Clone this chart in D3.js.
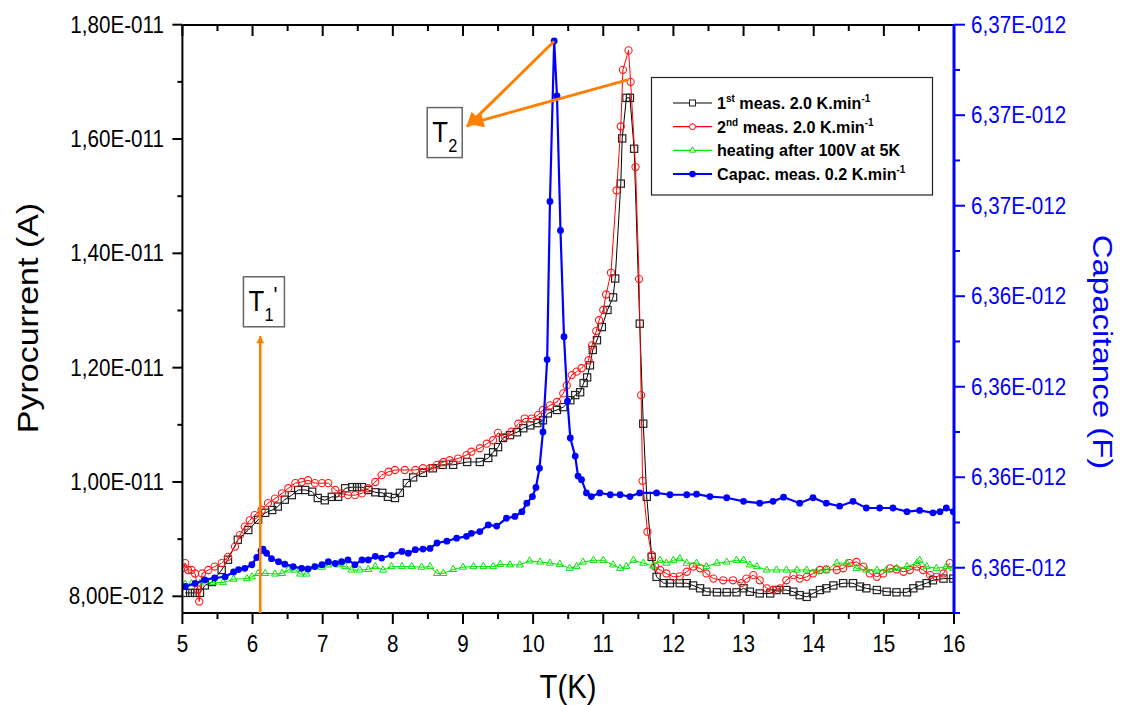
<!DOCTYPE html>
<html><head><meta charset="utf-8">
<script src="https://cdn.jsdelivr.net/npm/d3@7"></script>
<style>body{margin:0;background:#fff}svg{font-family:"Liberation Sans",Arial,sans-serif}</style>
</head><body><svg id="c" width="1122" height="705"></svg>
<script>
// ---- data (T in K, pyrocurrent in 1e-12 A, capacitance in 1e-12 F) ----
const xTicks = [5,6,7,8,9,10,11,12,13,14,15,16];
const leftTicks = [8,10,12,14,16,18];
const leftTickLabels = ["8,00E-012","1,00E-011","1,20E-011","1,40E-011","1,60E-011","1,80E-011"];
const rightTicks = [6.3595,6.3610,6.3625,6.3640,6.3655,6.3670,6.3685];
const rightTickLabels = ["6,36E-012","6,36E-012","6,36E-012","6,36E-012","6,37E-012","6,37E-012","6,37E-012"];

const meas1 = [[5.04,8.06],[5.11,8.06],[5.18,8.06],[5.25,8.06],[5.32,8.19],[5.42,8.25],[5.56,8.46],[5.65,8.64],[5.79,8.99],[5.94,9.16],[6.08,9.34],[6.18,9.46],[6.28,9.51],[6.36,9.57],[6.46,9.69],[6.56,9.77],[6.65,9.86],[6.75,9.86],[6.85,9.83],[6.93,9.72],[7.03,9.68],[7.13,9.74],[7.22,9.74],[7.32,9.89],[7.42,9.91],[7.49,9.91],[7.56,9.91],[7.65,9.86],[7.75,9.82],[7.85,9.81],[7.93,9.74],[8.03,9.72],[8.10,9.81],[8.20,9.98],[8.29,10.08],[8.43,10.16],[8.57,10.24],[8.71,10.30],[8.86,10.30],[9.06,10.35],[9.24,10.35],[9.36,10.42],[9.43,10.52],[9.50,10.61],[9.57,10.77],[9.67,10.82],[9.77,10.87],[9.86,10.94],[9.96,10.99],[10.06,11.03],[10.14,11.08],[10.21,11.20],[10.34,11.26],[10.43,11.31],[10.53,11.43],[10.60,11.52],[10.67,11.57],[10.72,11.73],[10.77,11.83],[10.81,12.04],[10.85,12.31],[10.91,12.48],[10.98,12.71],[11.06,13.01],[11.14,13.23],[11.17,13.56],[11.25,15.22],[11.27,16.01],[11.33,16.72],[11.38,16.72],[11.44,15.83],[11.52,12.77],[11.57,11.02],[11.62,9.74],[11.69,8.69],[11.76,8.34],[11.86,8.23],[11.95,8.23],[12.09,8.23],[12.19,8.23],[12.28,8.19],[12.38,8.14],[12.47,8.08],[12.62,8.07],[12.76,8.07],[12.90,8.07],[13.00,8.14],[13.09,8.08],[13.23,8.05],[13.38,8.05],[13.47,8.11],[13.61,8.11],[13.71,8.08],[13.80,8.02],[13.90,7.99],[13.99,8.05],[14.09,8.11],[14.18,8.14],[14.28,8.19],[14.42,8.23],[14.56,8.23],[14.66,8.17],[14.75,8.14],[14.90,8.11],[15.04,8.08],[15.18,8.07],[15.33,8.07],[15.42,8.14],[15.51,8.19],[15.61,8.23],[15.70,8.28],[15.85,8.31],[15.99,8.31]];

const meas2 = [[5.02,8.50],[5.04,8.58],[5.08,8.46],[5.13,8.46],[5.18,8.40],[5.22,8.12],[5.24,7.91],[5.28,8.40],[5.37,8.46],[5.46,8.52],[5.56,8.58],[5.65,8.69],[5.75,8.87],[5.82,9.07],[5.89,9.22],[5.96,9.33],[6.03,9.42],[6.13,9.51],[6.22,9.63],[6.32,9.71],[6.42,9.80],[6.51,9.89],[6.61,9.98],[6.70,10.00],[6.79,10.03],[6.89,9.98],[6.99,9.98],[7.08,9.98],[7.18,9.86],[7.27,9.80],[7.36,9.77],[7.46,9.77],[7.56,9.80],[7.65,9.89],[7.75,10.00],[7.84,10.12],[7.94,10.18],[8.03,10.21],[8.17,10.21],[8.32,10.21],[8.43,10.24],[8.53,10.24],[8.63,10.30],[8.72,10.35],[8.81,10.38],[8.93,10.41],[9.05,10.47],[9.12,10.53],[9.24,10.59],[9.34,10.67],[9.43,10.73],[9.50,10.86],[9.60,10.79],[9.69,10.88],[9.79,11.02],[9.88,11.11],[9.98,11.11],[10.07,11.17],[10.14,11.26],[10.24,11.34],[10.34,11.40],[10.43,11.55],[10.48,11.69],[10.55,11.87],[10.62,11.93],[10.69,11.99],[10.79,12.13],[10.84,12.39],[10.90,12.64],[10.94,12.83],[11.00,13.01],[11.04,13.28],[11.11,13.66],[11.19,15.10],[11.25,16.22],[11.28,17.21],[11.36,17.55],[11.39,17.00],[11.46,15.51],[11.51,13.55],[11.54,11.52],[11.56,10.02],[11.63,9.13],[11.69,8.72],[11.74,8.52],[11.81,8.46],[11.90,8.40],[12.00,8.34],[12.09,8.35],[12.19,8.43],[12.28,8.52],[12.38,8.49],[12.47,8.40],[12.57,8.31],[12.71,8.28],[12.85,8.28],[12.97,8.23],[13.04,8.31],[13.14,8.37],[13.23,8.28],[13.33,8.14],[13.42,8.11],[13.52,8.14],[13.61,8.28],[13.71,8.37],[13.80,8.31],[13.90,8.34],[13.99,8.40],[14.09,8.46],[14.18,8.47],[14.33,8.46],[14.42,8.49],[14.51,8.58],[14.61,8.60],[14.71,8.52],[14.80,8.40],[14.90,8.34],[14.99,8.40],[15.09,8.49],[15.18,8.47],[15.28,8.43],[15.37,8.46],[15.47,8.52],[15.56,8.46],[15.66,8.37],[15.75,8.34],[15.85,8.40],[15.94,8.58]];

const heat100V = [[5.04,8.21],[5.13,8.22],[5.25,8.23],[5.44,8.24],[5.58,8.24],[5.73,8.30],[5.92,8.31],[5.99,8.34],[6.08,8.40],[6.18,8.40],[6.32,8.39],[6.42,8.40],[6.51,8.46],[6.61,8.46],[6.68,8.39],[6.77,8.39],[6.87,8.51],[6.99,8.51],[7.08,8.55],[7.22,8.55],[7.32,8.52],[7.41,8.46],[7.53,8.46],[7.65,8.47],[7.75,8.52],[7.86,8.46],[7.98,8.52],[8.13,8.52],[8.27,8.52],[8.41,8.51],[8.53,8.52],[8.63,8.40],[8.72,8.40],[8.86,8.47],[9.00,8.51],[9.15,8.52],[9.29,8.52],[9.43,8.52],[9.53,8.56],[9.67,8.55],[9.81,8.55],[9.95,8.62],[10.10,8.60],[10.24,8.58],[10.38,8.56],[10.52,8.49],[10.62,8.52],[10.71,8.60],[10.86,8.63],[11.00,8.63],[11.14,8.55],[11.24,8.49],[11.33,8.52],[11.43,8.63],[11.57,8.58],[11.71,8.53],[11.81,8.63],[11.90,8.58],[12.00,8.63],[12.09,8.66],[12.19,8.58],[12.33,8.58],[12.47,8.52],[12.62,8.58],[12.76,8.60],[12.90,8.63],[13.00,8.63],[13.09,8.55],[13.19,8.52],[13.33,8.46],[13.47,8.46],[13.61,8.46],[13.76,8.46],[13.90,8.46],[14.04,8.43],[14.18,8.46],[14.33,8.58],[14.47,8.58],[14.61,8.49],[14.75,8.46],[14.90,8.46],[15.04,8.46],[15.18,8.49],[15.33,8.52],[15.47,8.58],[15.51,8.63],[15.61,8.52],[15.75,8.49],[15.89,8.52],[15.99,8.49]];

const capac = [[5.04,6.35919],[5.18,6.35924],[5.32,6.35930],[5.46,6.35933],[5.61,6.35935],[5.73,6.35943],[5.80,6.35947],[5.89,6.35949],[5.99,6.35955],[6.06,6.35967],[6.12,6.35978],[6.15,6.35981],[6.20,6.35974],[6.27,6.35965],[6.37,6.35960],[6.46,6.35956],[6.58,6.35952],[6.70,6.35949],[6.79,6.35948],[6.89,6.35952],[6.99,6.35955],[7.08,6.35960],[7.18,6.35957],[7.27,6.35960],[7.36,6.35963],[7.46,6.35955],[7.56,6.35963],[7.65,6.35963],[7.75,6.35969],[7.84,6.35966],[7.98,6.35971],[8.13,6.35977],[8.22,6.35974],[8.32,6.35980],[8.43,6.35981],[8.53,6.35982],[8.63,6.35991],[8.77,6.35994],[8.91,6.35999],[9.05,6.36002],[9.12,6.36007],[9.24,6.36010],[9.36,6.36021],[9.48,6.36019],[9.62,6.36032],[9.74,6.36035],[9.84,6.36043],[9.91,6.36057],[9.99,6.36068],[10.04,6.36083],[10.09,6.36115],[10.14,6.36175],[10.20,6.36295],[10.24,6.36557],[10.30,6.36823],[10.34,6.36732],[10.39,6.36509],[10.44,6.36333],[10.49,6.36226],[10.53,6.36165],[10.60,6.36135],[10.64,6.36102],[10.69,6.36096],[10.76,6.36074],[10.83,6.36068],[10.95,6.36074],[11.10,6.36071],[11.24,6.36071],[11.38,6.36068],[11.52,6.36074],[11.76,6.36074],[11.95,6.36071],[12.19,6.36071],[12.33,6.36072],[12.52,6.36068],[12.76,6.36066],[13.00,6.36060],[13.23,6.36057],[13.42,6.36060],[13.57,6.36067],[13.80,6.36057],[13.99,6.36066],[14.18,6.36057],[14.37,6.36052],[14.56,6.36060],[14.75,6.36049],[14.94,6.36049],[15.13,6.36049],[15.33,6.36043],[15.51,6.36045],[15.70,6.36041],[15.80,6.36043],[15.89,6.36049],[15.99,6.36043]];

const legendItems = [
  {main:"1", sup:"st", rest:" meas. 2.0 K.min", sup2:"-1", color:"#000", sym:"square"},
  {main:"2", sup:"nd", rest:" meas. 2.0 K.min", sup2:"-1", color:"#ff0000", sym:"circle"},
  {main:"heating after 100V at 5K", sup:"", rest:"", sup2:"", color:"#00e600", sym:"triangle"},
  {main:"Capac. meas. 0.2 K.min", sup:"-1", rest:"", sup2:"", color:"#0000ff", sym:"dot"}
];

// ---- layout ----
const L=182.4, R=954, TOP=25, BOT=613;
const svg = d3.select("#c");
const x = d3.scaleLinear().domain([5,16]).range([L,R]);
const yL = d3.scaleLinear().domain([7.708,18]).range([BOT,24.7]);
const yR = d3.scaleLinear().domain([6.35875,6.3685]).range([BOT,24.7]);
const orange = "#ff8000";
const SX = 0.86;

function txt(g, px, py, str, size, opts={}) {
  return g.append("text")
    .attr("transform", `translate(${px},${py}) ${opts.rot?`rotate(${opts.rot})`:""} scale(${opts.rot?1:SX},${opts.rot?SX:1})`)
    .attr("font-size", size).attr("fill", opts.fill||"#000")
    .attr("text-anchor", opts.anchor||"start")
    .attr("font-weight", opts.bold?"bold":"normal")
    .text(str);
}

const lineL = d3.line().x(d=>x(d[0])).y(d=>yL(d[1]));
const lineR = d3.line().x(d=>x(d[0])).y(d=>yR(d[1]));
const plot = svg.append("g");
plot.append("defs").append("clipPath").attr("id","clip").append("rect")
  .attr("x",L).attr("y",TOP).attr("width",R-L).attr("height",BOT-TOP);
const pg = plot.append("g").attr("clip-path","url(#clip)");

// black squares
pg.append("path").datum(meas1).attr("d",lineL).attr("fill","none").attr("stroke","#000").attr("stroke-width",1);
pg.selectAll(".sq").data(meas1).enter().append("rect")
  .attr("x",d=>x(d[0])-3.6).attr("y",d=>yL(d[1])-3.6).attr("width",7.2).attr("height",7.2)
  .attr("fill","none").attr("stroke","#222").attr("stroke-width",1.2);
// red circles
pg.append("path").datum(meas2).attr("d",lineL).attr("fill","none").attr("stroke","#ff0000").attr("stroke-width",1);
pg.selectAll(".ci").data(meas2).enter().append("circle")
  .attr("cx",d=>x(d[0])).attr("cy",d=>yL(d[1])).attr("r",3.6)
  .attr("fill","none").attr("stroke","#ff1a1a").attr("stroke-width",1.1);
// green triangles
pg.append("path").datum(heat100V).attr("d",lineL).attr("fill","none").attr("stroke","#00e600").attr("stroke-width",1);
const tri = d3.symbol().type(d3.symbolTriangle).size(22);
pg.selectAll(".tr").data(heat100V).enter().append("path")
  .attr("d",tri).attr("transform",d=>`translate(${x(d[0])},${yL(d[1])})`)
  .attr("fill","none").attr("stroke","#00e600").attr("stroke-width",1);
// blue dots
pg.append("path").datum(capac).attr("d",lineR).attr("fill","none").attr("stroke","#0000ff").attr("stroke-width",2.2);
pg.selectAll(".bd").data(capac).enter().append("circle")
  .attr("cx",d=>x(d[0])).attr("cy",d=>yR(d[1])).attr("r",3.4).attr("fill","#0000ff");

// ---- axes ----
const ax = svg.append("g");
ax.append("line").attr("x1",L).attr("x2",R).attr("y1",TOP).attr("y2",TOP).attr("stroke","#000").attr("stroke-width",2);
ax.append("line").attr("x1",L).attr("x2",R).attr("y1",BOT).attr("y2",BOT).attr("stroke","#000").attr("stroke-width",2);
ax.append("line").attr("x1",L).attr("x2",L).attr("y1",TOP).attr("y2",BOT).attr("stroke","#000").attr("stroke-width",2);
const xMinor = xTicks.slice(0,-1).map(v=>v+0.5);
xTicks.forEach(v=>{
  ax.append("line").attr("x1",x(v)).attr("x2",x(v)).attr("y1",BOT).attr("y2",BOT+11).attr("stroke","#000").attr("stroke-width",2);
  ax.append("line").attr("x1",x(v)).attr("x2",x(v)).attr("y1",TOP).attr("y2",TOP+11).attr("stroke","#000").attr("stroke-width",2);
  txt(ax, x(v), 652, String(v), 24, {anchor:"middle"});
});
xMinor.forEach(v=>{
  ax.append("line").attr("x1",x(v)).attr("x2",x(v)).attr("y1",BOT).attr("y2",BOT+6).attr("stroke","#000").attr("stroke-width",2);
  ax.append("line").attr("x1",x(v)).attr("x2",x(v)).attr("y1",TOP).attr("y2",TOP+6).attr("stroke","#000").attr("stroke-width",2);
});
leftTicks.forEach((v,i)=>{
  ax.append("line").attr("x1",L-10).attr("x2",L).attr("y1",yL(v)).attr("y2",yL(v)).attr("stroke","#000").attr("stroke-width",2);
  txt(ax, 164, yL(v)+8, leftTickLabels[i], 24, {anchor:"end"});
});
leftTicks.slice(0,-1).map(v=>v+1).forEach(v=>{
  ax.append("line").attr("x1",L-5).attr("x2",L).attr("y1",yL(v)).attr("y2",yL(v)).attr("stroke","#000").attr("stroke-width",2);
});
ax.append("line").attr("x1",R).attr("x2",R).attr("y1",TOP-1).attr("y2",BOT+1).attr("stroke","#0000ff").attr("stroke-width",3);
rightTicks.forEach((v,i)=>{
  ax.append("line").attr("x1",R).attr("x2",R+11).attr("y1",yR(v)).attr("y2",yR(v)).attr("stroke","#0000ff").attr("stroke-width",2);
  txt(ax, 971, yR(v)+8, rightTickLabels[i], 24, {fill:"#0000ff"});
});
rightTicks.map(v=>v-0.00075).forEach(v=>{
  ax.append("line").attr("x1",R).attr("x2",R+6).attr("y1",yR(v)).attr("y2",yR(v)).attr("stroke","#0000ff").attr("stroke-width",2);
});
txt(ax, 568, 698, "T(K)", 34, {anchor:"middle"});
txt(ax, 38, 318, "Pyrocurrent (A)", 34, {anchor:"middle", rot:-90});
txt(ax, 1093, 352, "Capacitance (F)", 33, {anchor:"middle", rot:90, fill:"#0000ff"});

// ---- annotations ----
const defs = svg.append("defs");
defs.append("marker").attr("id","ah").attr("viewBox","0 0 10 10").attr("refX",9).attr("refY",5)
  .attr("markerWidth",7).attr("markerHeight",5).attr("orient","auto").attr("markerUnits","strokeWidth")
  .append("path").attr("d","M0,0 L10,5 L0,10 z").attr("fill",orange);
defs.append("marker").attr("id","ah2").attr("viewBox","0 0 10 10").attr("refX",9).attr("refY",5)
  .attr("markerWidth",4).attr("markerHeight",3).attr("orient","auto").attr("markerUnits","strokeWidth")
  .append("path").attr("d","M0,0 L10,5 L0,10 z").attr("fill",orange);
const an = svg.append("g");
const arrows = [
  {from:[10.30,17.71], to:[9.06,16.22], m:"ah", w:3},
  {from:[11.36,17.04], to:[9.10,16.27], m:"ah", w:3},
  {from:[6.11,7.708], to:[6.11,12.55], m:"ah2", w:2.6}
];
arrows.forEach(a=>{
  an.append("line").attr("x1",x(a.from[0])).attr("y1",yL(a.from[1]))
    .attr("x2",x(a.to[0])).attr("y2",yL(a.to[1]))
    .attr("stroke",orange).attr("stroke-width",a.w).attr("marker-end",`url(#${a.m})`);
});
const boxes = [
  {t:8.49, v:16.55, w:35, h:50, sub:"2", prime:""},
  {t:5.87, v:13.59, w:41, h:50, sub:"1", prime:"'"}
];
boxes.forEach(b=>{
  const bx=x(b.t), by=yL(b.v);
  an.append("rect").attr("x",bx).attr("y",by).attr("width",b.w).attr("height",b.h)
    .attr("fill","#fff").attr("stroke","#666").attr("stroke-width",1.5);
  txt(an, bx+5, by+34, "T", 30);
  txt(an, bx+21, by+44, b.sub, 19);
  if (b.prime) txt(an, bx+30, by+27, b.prime, 24);
});

// ---- legend ----
const lg = svg.append("g");
lg.append("rect").attr("x",651.5).attr("y",77.5).attr("width",281).attr("height",117.5)
  .attr("fill","#fff").attr("stroke","#222").attr("stroke-width",1.2);
legendItems.forEach((it,i)=>{
  const cy = 103 + i*23.7;
  lg.append("line").attr("x1",673).attr("x2",712).attr("y1",cy).attr("y2",cy)
    .attr("stroke",it.color).attr("stroke-width",it.sym==="dot"?2:1.2);
  if (it.sym==="square") lg.append("rect").attr("x",689.5).attr("y",cy-3).attr("width",6).attr("height",6).attr("fill","#fff").attr("stroke","#222");
  if (it.sym==="circle") lg.append("circle").attr("cx",692.5).attr("cy",cy).attr("r",3).attr("fill","#fff").attr("stroke",it.color);
  if (it.sym==="triangle") lg.append("path").attr("d",d3.symbol().type(d3.symbolTriangle).size(16)).attr("transform",`translate(692.5,${cy})`).attr("fill","#fff").attr("stroke",it.color);
  if (it.sym==="dot") lg.append("circle").attr("cx",692.5).attr("cy",cy).attr("r",3.3).attr("fill",it.color);
  const t = lg.append("text").attr("transform",`translate(717,${cy+6}) scale(0.95,1)`)
    .attr("font-size",17).attr("font-weight","bold").attr("fill","#000");
  t.append("tspan").text(it.main);
  if (it.sup) t.append("tspan").attr("font-size",10.5).attr("dy",-7).text(it.sup);
  if (it.rest) t.append("tspan").attr("font-size",17).attr("dy",7).text(it.rest);
  if (it.sup2) t.append("tspan").attr("font-size",10.5).attr("dy",-7).text(it.sup2);
});
</script></body></html>
